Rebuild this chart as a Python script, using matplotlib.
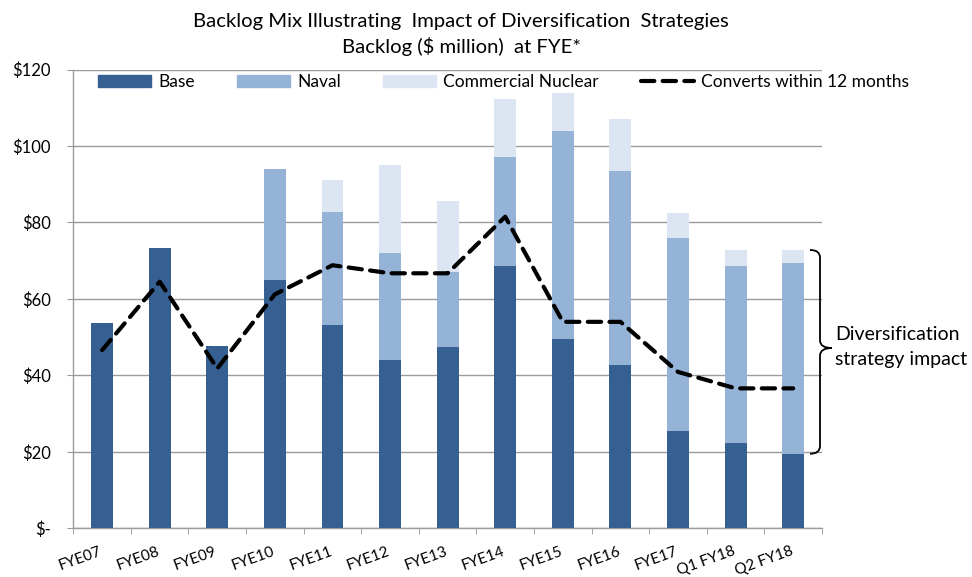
import matplotlib
matplotlib.use("Agg")
import matplotlib.pyplot as plt
import numpy as np
import matplotlib.transforms as mtransforms
from matplotlib.path import Path
from matplotlib.patches import PathPatch, Patch
from matplotlib.lines import Line2D

plt.rcParams['font.family'] = ['Lato', 'DejaVu Sans']

categories = ["FYE07", "FYE08", "FYE09", "FYE10", "FYE11", "FYE12", "FYE13",
              "FYE14", "FYE15", "FYE16", "FYE17", "Q1 FY18", "Q2 FY18"]
base = [53.6, 73.2, 47.7, 64.9, 53.1, 44.0, 47.3, 68.7, 49.4, 42.7, 25.5, 22.2, 19.5]
naval = [0, 0, 0, 29.2, 29.7, 28.1, 19.8, 28.5, 54.5, 50.7, 50.3, 46.5, 50.0]
commercial = [0, 0, 0, 0, 8.4, 22.8, 18.5, 15.0, 10.0, 13.7, 6.7, 4.1, 3.3]
converts = [46.6, 64.5, 41.8, 61.2, 68.8, 66.7, 66.7, 81.5, 54.0, 54.0, 40.9, 36.6, 36.6]
yticks = [0, 20, 40, 60, 80, 100, 120]
ytick_labels = ["$-", "$20", "$40", "$60", "$80", "$100", "$120"]

c_base = '#376092'
c_naval = '#95B3D7'
c_comm = '#DCE6F2'
grid_c = '#9A9A9A'

W, H = 972, 577
fig = plt.figure(figsize=(W/100, H/100), dpi=100)
ax = fig.add_axes([73.3/W, (H-528.3)/H, (822-73.3)/W, (528.3-69.5)/H])

x = np.arange(len(categories))
bw = 0.38
b = np.array(base); n = np.array(naval); c = np.array(commercial)
ax.bar(x, b, bw, color=c_base, zorder=3)
ax.bar(x, n, bw, bottom=b, color=c_naval, zorder=3)
ax.bar(x, c, bw, bottom=b+n, color=c_comm, zorder=3)
ax.plot(x, converts, color='black', lw=3.0, linestyle=(0, (3.2, 2.0)),
        dash_capstyle='round', solid_joinstyle='round', zorder=4)

ax.set_xlim(-0.5, len(categories)-0.5)
ax.set_ylim(0, 120)
ax.set_yticks(yticks)
ax.set_yticklabels(ytick_labels, fontsize=12)
ax.yaxis.grid(True, color=grid_c, lw=1.0, zorder=0)
ax.set_axisbelow(True)
for s in ['top', 'right']:
    ax.spines[s].set_visible(False)
for s in ['left', 'bottom']:
    ax.spines[s].set_color(grid_c)
    ax.spines[s].set_linewidth(1.0)
ax.tick_params(axis='y', length=4.5, color=grid_c, pad=11.5)
ax.set_xticks(np.arange(-0.5, len(categories)), minor=True)
ax.set_xticks(x)
ax.set_xticklabels(categories, rotation=20, ha='right', rotation_mode='anchor', fontsize=11)
ax.tick_params(axis='x', which='major', length=0, pad=11.5)
ax.tick_params(axis='x', which='minor', length=4.5, color=grid_c)
offset = mtransforms.ScaledTranslation(-0.03, 0, fig.dpi_scale_trans)
for lbl in ax.get_xticklabels():
    lbl.set_transform(lbl.get_transform() + offset)

# Title
fig.text(461/W, 1-22/H, "Backlog Mix Illustrating  Impact of Diversification  Strategies",
         ha='center', va='center', fontsize=14.6)
fig.text(461/W, 1-47/H, "Backlog ($ million)  at FYE*", ha='center', va='center', fontsize=14.6)

# Legend
handles = [Patch(color=c_base), Patch(color=c_naval), Patch(color=c_comm),
           Line2D([0], [0], color='black', lw=3.0, linestyle=(0, (3.2, 2.0)), dash_capstyle='round')]
labels = ["Base", "Naval", "Commercial Nuclear", "Converts within 12 months"]
fig.legend(handles, labels, loc='upper left', bbox_to_anchor=(98/W, 1-74/H),
           ncol=4, frameon=False, fontsize=12.5, handlelength=3.05, handleheight=0.63,
           handletextpad=0.4, columnspacing=2.45, borderpad=0, borderaxespad=0)

# Brace for diversification impact
i = len(categories) - 1
top = base[i] + naval[i] + commercial[i]
bot = base[i]
mid = (top + bot) / 2 + 1.0
trans = mtransforms.blended_transform_factory(ax.transAxes, ax.transData)
def xf(px):
    return (px - 73.3) / (822 - 73.3)
x0, x1, xt = xf(810), xf(820), xf(832)
r = 2.0
verts = [(x0, top), (x1, top), (x1, top - r), (x1, mid + r), (x1, mid), (xt, mid),
         (x1, mid), (x1, mid - r), (x1, bot + r), (x1, bot), (x0, bot)]
codes = [Path.MOVETO, Path.CURVE3, Path.CURVE3, Path.LINETO, Path.CURVE3, Path.CURVE3,
         Path.CURVE3, Path.CURVE3, Path.LINETO, Path.CURVE3, Path.CURVE3]
ax.add_patch(PathPatch(Path(verts, codes), fill=False, lw=1.3, color='black',
                       transform=trans, clip_on=False))
fig.text(835/W, 1-335/H, "Diversification", ha='left', va='center', fontsize=14)
fig.text(835/W, 1-359/H, "strategy impact", ha='left', va='center', fontsize=14)

fig.savefig("out.png", dpi=100)
